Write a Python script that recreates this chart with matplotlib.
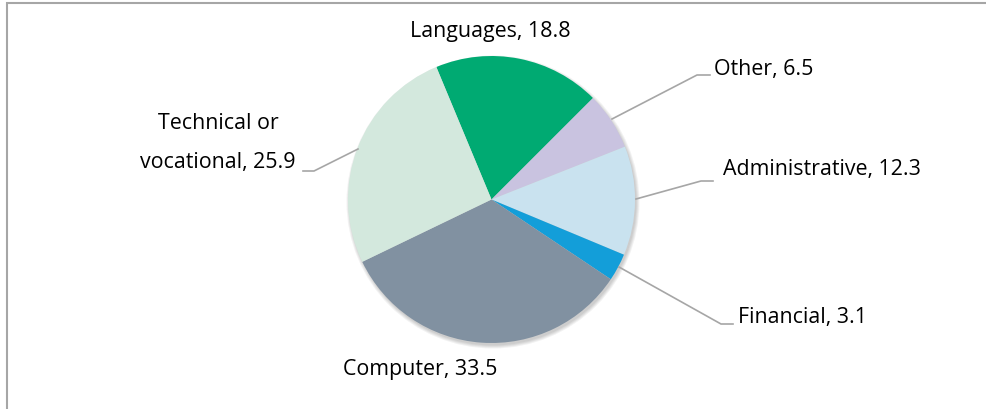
import matplotlib
matplotlib.use('Agg')
import matplotlib.pyplot as plt
from matplotlib.patches import Circle, Rectangle

plt.rcParams['font.family'] = ['Open Sans', 'DejaVu Sans']

# share of training by field
fields = ['Languages', 'Other', 'Administrative', 'Financial', 'Computer', 'Technical or\nvocational']
shares = [18.8, 6.5, 12.3, 3.1, 33.5, 25.9]
colors = ['#00aa72', '#c9c3e0', '#c9e2ef', '#139ed9', '#8191a1', '#d3e8dd']

W, H = 986, 409
fig = plt.figure(figsize=(W / 100, H / 100), dpi=100)
ax = fig.add_axes([0, 0, 1, 1])

cx, cy, r = 491.5, H - 199.5, 143.5

# soft shadow under the pie
for i, a in enumerate([0.05, 0.05, 0.05, 0.05]):
    ax.add_patch(Circle((cx + 1.5, cy - 2.5), r + 3 - i, color='#000000', alpha=a, lw=0, zorder=0))

ax.pie(shares, colors=colors, startangle=112.6, counterclock=False,
       center=(cx, cy), radius=r, wedgeprops=dict(linewidth=0))

# outer frame
ax.add_patch(Rectangle((7, -10), W + 20, H - 3 + 10, fill=False, ec='#a6a6a6', lw=1.5, zorder=5))

lc = '#a6a6a6'
fs = 15.4


def py(y):
    return H - y


labels = [f'{f}, {v}' for f, v in zip(fields, shares)]

ax.text(490, py(32), labels[0], ha='center', va='center', fontsize=fs)

ax.plot([612, 697, 710], [py(119), py(75), py(75)], color=lc, lw=1.2)
ax.text(714, py(70), labels[1], ha='left', va='center', fontsize=fs)

ax.plot([636, 701, 713], [py(199), py(181), py(181)], color=lc, lw=1.2)
ax.text(723, py(169), labels[2], ha='left', va='center', fontsize=fs)

ax.plot([619, 721, 733], [py(267), py(324), py(324)], color=lc, lw=1.2)
ax.text(738, py(318), labels[3], ha='left', va='center', fontsize=fs)

ax.text(420, py(370), labels[4], ha='center', va='center', fontsize=fs)

ax.plot([358, 314, 303], [py(149), py(171), py(171)], color=lc, lw=1.2)
ax.text(218, py(143), labels[5], ha='center', va='center', fontsize=fs, linespacing=2.15)

ax.set_xlim(0, W)
ax.set_ylim(0, H)
ax.set_aspect('auto')
ax.axis('off')

fig.savefig('out.png', dpi=100, facecolor='white')
